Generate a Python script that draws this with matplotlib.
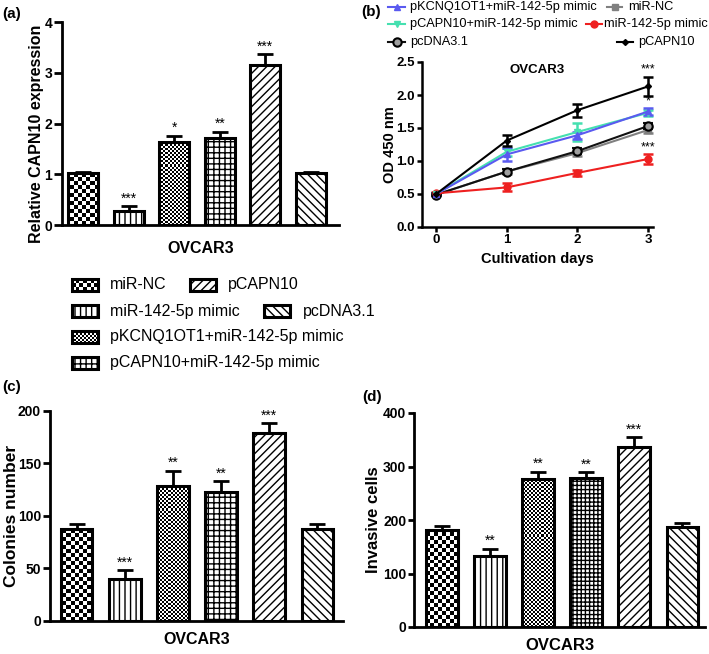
import numpy as np
import matplotlib
matplotlib.use("Agg")
import matplotlib.pyplot as plt
from matplotlib.lines import Line2D

plt.rcParams['font.family'] = ['Liberation Sans', 'DejaVu Sans']
plt.rcParams['hatch.linewidth'] = 1.0

W, H = 709, 654

groups = ['miR-NC', 'miR-142-5p mimic', 'pKCNQ1OT1+miR-142-5p mimic',
          'pCAPN10+miR-142-5p mimic', 'pCAPN10', 'pcDNA3.1']

# (a) relative CAPN10 expression
expr_vals = [1.02, 0.27, 1.63, 1.72, 3.16, 1.02]
expr_errs = [0.03, 0.10, 0.13, 0.12, 0.20, 0.03]
expr_stars = ['', '***', '*', '**', '***', '']

# (c) colonies
col_vals = [87, 40, 128, 123, 179, 87]
col_errs = [5, 8, 15, 10, 9, 5]
col_stars = ['', '***', '**', '**', '***', '']

# (d) invasive cells
inv_vals = [181, 132, 277, 278, 336, 186]
inv_errs = [8, 14, 13, 11, 19, 9]
inv_stars = ['', '**', '**', '**', '***', '']

# (b) CCK-8 curves
days = [0, 1, 2, 3]
od_pkcnq = [0.50, 1.10, 1.39, 1.75]
od_pkcnq_err = [0.02, 0.10, 0.05, 0.05]
od_pcapn_mimic = [0.50, 1.14, 1.44, 1.73]
od_pcapn_mimic_err = [0.02, 0.06, 0.13, 0.05]
od_pcdna = [0.49, 0.84, 1.15, 1.53]
od_pcdna_err = [0.02, 0.04, 0.05, 0.05]
od_mirnc = [0.49, 0.84, 1.12, 1.47]
od_mirnc_err = [0.02, 0.03, 0.04, 0.04]
od_mir142 = [0.51, 0.60, 0.82, 1.03]
od_mir142_err = [0.02, 0.06, 0.05, 0.08]
od_pcapn = [0.50, 1.31, 1.77, 2.13]
od_pcapn_err = [0.02, 0.08, 0.10, 0.14]

fills = {
    'miR-NC': ('checker', 4),
    'miR-142-5p mimic': ('hatch', '|||'),
    'pKCNQ1OT1+miR-142-5p mimic': ('checker', 2),
    'pCAPN10+miR-142-5p mimic': ('hatch', '+++'),
    'pCAPN10': ('hatch', '////'),
    'pcDNA3.1': ('hatch', '\\\\\\\\'),
}

fig = plt.figure(figsize=(W / 100, H / 100), dpi=100)


def add_ax(left, right, top, bottom):
    return fig.add_axes([left / W, 1 - bottom / H, (right - left) / W, (bottom - top) / H])


def checker(ax, rect, cell):
    pos = ax.get_position()
    nx = max(1, int(round(pos.width * W / cell)))
    ny = max(1, int(round(pos.height * H / cell)))
    pat = np.indices((ny, nx)).sum(0) % 2
    im = ax.imshow(pat, cmap='gray_r', extent=(0, 1, 0, 1), transform=ax.transAxes,
                   interpolation='nearest', aspect='auto', zorder=2)
    im.set_clip_path(rect)


def draw_bars(ax, x, vals, names, width, lw, grid=None):
    base = ax.bar(x, vals, width=width, color='white', edgecolor='none', zorder=1)
    top = ax.bar(x, vals, width=width, facecolor='none', edgecolor='black',
                 linewidth=lw, zorder=3)
    for g, b0, b1 in zip(names, base, top):
        kind, p = fills[g]
        if kind == 'checker':
            checker(ax, b0, p)
        else:
            if grid and p == '+++':
                p = grid
            b1.set_hatch(p)
    return top


def bar_panel(ax, vals, errs, stars, ylim, yticks, ylabel, xlim, lfs, xfs, tlen, grid=None):
    x = np.arange(len(groups))
    ax.errorbar(x, vals, yerr=[np.zeros(len(vals)), errs], fmt='none', ecolor='black',
                elinewidth=2, capsize=6, capthick=2, zorder=2)
    draw_bars(ax, x, vals, groups, 0.66, 2.2, grid)
    off = (ylim[1] - ylim[0]) * 0.003
    for xi, v, e, s in zip(x, vals, errs, stars):
        if s:
            ax.text(xi, v + e + off, s, ha='center', va='bottom', fontsize=10)
    ax.set_xlim(*xlim)
    ax.set_ylim(*ylim)
    ax.set_yticks(yticks, [str(t) for t in yticks], fontweight='bold', fontsize=10)
    ax.set_xticks([])
    ax.set_ylabel(ylabel, fontweight='bold', fontsize=lfs)
    ax.set_xlabel('OVCAR3', fontweight='bold', fontsize=xfs)
    for s in ['top', 'right']:
        ax.spines[s].set_visible(False)
    for s in ['left', 'bottom']:
        ax.spines[s].set_linewidth(2)
    ax.tick_params(axis='y', width=2, length=tlen, pad=1.5)


# ---- (a)
ax_a = add_ax(62, 339, 22, 225)
bar_panel(ax_a, expr_vals, expr_errs, expr_stars, (0, 4), [0, 1, 2, 3, 4],
          'Relative CAPN10 expression', (-0.47, 5.62), 11.5, 11.5, 5.5)
ax_a.yaxis.set_label_coords((44 - 62) / 277, 0.45)
ax_a.xaxis.set_label_coords(0.5, (225 - 241) / 203)

# ---- (c)
ax_c = add_ax(50, 343, 410.7, 620.7)
bar_panel(ax_c, col_vals, col_errs, col_stars, (0, 200), [0, 50, 100, 150, 200],
          'Colonies number', (-0.55, 5.53), 12.5, 11.5, 5)
ax_c.yaxis.set_label_coords((19 - 50) / 293, 0.5)
ax_c.xaxis.set_label_coords(0.5, (620.7 - 632) / 210)

# ---- (d)
ax_d = add_ax(414, 705, 413, 627)
bar_panel(ax_d, inv_vals, inv_errs, inv_stars, (0, 400), [0, 100, 200, 300, 400],
          'Invasive cells', (-0.58, 5.47), 12, 12, 4, grid='++++')
ax_d.yaxis.set_label_coords((381 - 414) / 291, 0.5)
ax_d.xaxis.set_label_coords(0.5, (627 - 638) / 214)

# ---- (b)
ax_b = add_ax(422, 653, 62, 227)
series = [
    (od_mirnc, od_mirnc_err, 'miR-NC', '#808080', dict(marker='s', ms=5, mfc='#808080', mec='#808080')),
    (od_pcdna, od_pcdna_err, 'pcDNA3.1', '#111111', dict(marker='o', ms=6, mfc='#a0a0a0', mec='black', mew=1.5)),
    (od_mir142, od_mir142_err, 'miR-142-5p mimic', '#ee2020', dict(marker='o', ms=5, mfc='#ee2020', mec='#ee2020')),
    (od_pcapn_mimic, od_pcapn_mimic_err, 'pCAPN10+miR-142-5p mimic', '#45e0b0', dict(marker='v', ms=5, mfc='#45e0b0', mec='#45e0b0')),
    (od_pkcnq, od_pkcnq_err, 'pKCNQ1OT1+miR-142-5p mimic', '#5a5af0', dict(marker='^', ms=5, mfc='#5a5af0', mec='#5a5af0')),
    (od_pcapn, od_pcapn_err, 'pCAPN10', 'black', dict(marker='D', ms=3, mfc='black', mec='black')),
]
styles = {}
for y, e, name, c, mk in series:
    ax_b.errorbar(days, y, yerr=e, color=c, lw=1.5, elinewidth=1.8, capsize=3.5,
                  capthick=1.8, **mk)
    styles[name] = (c, mk)

ax_b.text(3, 2.29, '***', ha='center', va='bottom', fontsize=9)
ax_b.text(3, 1.81, '*', ha='center', va='bottom', fontsize=9)
ax_b.text(3, 1.12, '***', ha='center', va='bottom', fontsize=9)
ax_b.text(0.5, 0.95, 'OVCAR3', transform=ax_b.transAxes, ha='center', va='center',
          fontweight='bold', fontsize=9.5)
ax_b.set_xlim(-0.2, 3.07)
ax_b.set_ylim(0, 2.5)
ax_b.set_xticks(days, [str(d) for d in days], fontweight='bold', fontsize=9.5)
yt = [0.0, 0.5, 1.0, 1.5, 2.0, 2.5]
ax_b.set_yticks(yt, [f'{t:.1f}' for t in yt], fontweight='bold', fontsize=9.5)
ax_b.set_ylabel('OD 450 nm', fontweight='bold', fontsize=10.5)
ax_b.set_xlabel('Cultivation days', fontweight='bold', fontsize=10.5)
ax_b.yaxis.set_label_coords((397 - 422) / 231, 0.5)
ax_b.xaxis.set_label_coords(0.5, (227 - 252) / 165)
for s in ['top', 'right']:
    ax_b.spines[s].set_visible(False)
for s in ['left', 'bottom']:
    ax_b.spines[s].set_linewidth(1.8)
ax_b.tick_params(width=1.8, length=3.5, pad=1.5)

# legend of (b): (line x0, line x1, text x, row y)
leg_b = [
    ('pKCNQ1OT1+miR-142-5p mimic', 388, 405, 410, 7),
    ('miR-NC', 607, 622, 628, 7),
    ('pCAPN10+miR-142-5p mimic', 388, 405, 410, 24),
    ('miR-142-5p mimic', 586, 602, 604, 24),
    ('pcDNA3.1', 388, 405, 410, 42),
    ('pCAPN10', 617, 633, 638, 42),
]
for name, x0, x1, tx, yy in leg_b:
    c, mk = styles[name]
    fig.add_artist(Line2D([x0 / W, (x0 + x1) / 2 / W, x1 / W], [1 - yy / H] * 3, color=c,
                          lw=1.5, markevery=[1], transform=fig.transFigure, **mk))
    fig.text(tx / W, 1 - yy / H, name, ha='left', va='center', fontsize=9.2)

# legend of the bar panels: (patch x, text x, row y)
leg_bar = [
    ('miR-NC', 72, 110, 285),
    ('pCAPN10', 190, 228, 285),
    ('miR-142-5p mimic', 72, 110, 311),
    ('pcDNA3.1', 264, 303, 311),
    ('pKCNQ1OT1+miR-142-5p mimic', 72, 110, 337),
    ('pCAPN10+miR-142-5p mimic', 72, 110, 363),
]
for name, px, tx, yy in leg_bar:
    lax = add_ax(px, px + 26, yy - 6, yy + 6)
    lax.set_axis_off()
    draw_bars(lax, [0.5], [1], [name], 1, 2.2)
    for p in lax.patches:
        p.set_clip_on(False)
    lax.set_xlim(0, 1)
    lax.set_ylim(0, 1)
    fig.text(tx / W, 1 - yy / H, name, ha='left', va='center', fontsize=11.5)

# panel letters
for lab, x, y in [('(a)', 2, 14), ('(b)', 361, 12), ('(c)', 2, 387), ('(d)', 362, 397)]:
    fig.text(x / W, 1 - y / H, lab, ha='left', va='center', fontweight='bold', fontsize=11)

fig.savefig('out.png', dpi=100)
